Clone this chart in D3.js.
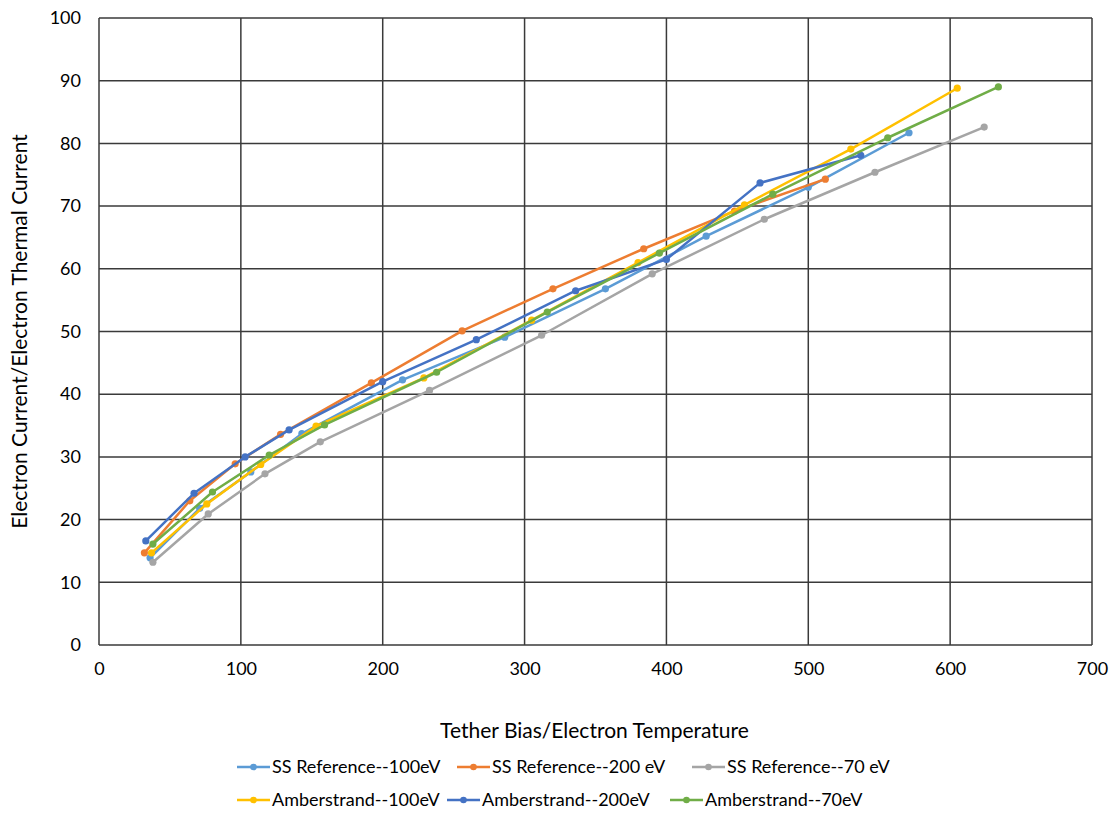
<!DOCTYPE html>
<html><head><meta charset="utf-8">
<script src="https://cdn.jsdelivr.net/npm/d3@7"></script>
<style>
body{margin:0;background:#fff;}
text{font-family:Lato,"Open Sans",sans-serif;fill:#000;}
</style></head>
<body><svg id="c" width="1120" height="819"></svg>
<script>
const xTicks=[0,100,200,300,400,500,600,700];
const yTicks=[0,10,20,30,40,50,60,70,80,90,100];
const seriesNames=["SS Reference--100eV","SS Reference--200 eV","SS Reference--70 eV","Amberstrand--100eV","Amberstrand--200eV","Amberstrand--70eV"];
const seriesColors=["#5B9BD5","#ED7D31","#A5A5A5","#FFC000","#4472C4","#70AD47"];
const ss100=[[36,13.9],[71,21.8],[107,27.6],[143,33.7],[214,42.3],[286,49.1],[357,56.8],[428,65.2],[500,73.0],[571,81.7]];
const ss200=[[32,14.7],[64,23.0],[96,28.9],[128,33.6],[192,41.8],[256,50.1],[320,56.8],[384,63.2],[448,69.2],[512,74.3]];
const ss70=[[38,13.2],[77,20.9],[117,27.3],[156,32.4],[233,40.6],[312,49.4],[390,59.2],[469,67.9],[547,75.4],[624,82.6]];
const amb100=[[37,14.7],[76,22.5],[114,28.8],[153,34.9],[229,42.6],[305,51.8],[380,61.0],[455,70.2],[530,79.1],[605,88.8]];
const amb200=[[33,16.6],[67,24.2],[103,30.0],[134,34.3],[200,42.0],[266,48.7],[336,56.5],[400,61.5],[466,73.7],[537,78.1]];
const amb70=[[38,16.1],[80,24.4],[120,30.3],[159,35.1],[238,43.5],[316,53.1],[395,62.5],[475,71.9],[556,80.9],[634,89.0]];
const seriesData=[ss100,ss200,ss70,amb100,amb200,amb70];

const svg=d3.select("#c");
const L=99,R=1092,T=18,B=645;
const x=d3.scaleLinear().domain([0,700]).range([L,R]);
const y=d3.scaleLinear().domain([0,100]).range([B,T]);

// grid
svg.append("g").selectAll("line").data(xTicks).join("line")
 .attr("x1",d=>x(d)).attr("x2",d=>x(d)).attr("y1",T).attr("y2",B)
 .attr("stroke","#3a3a3a").attr("stroke-width",1.5);
svg.append("g").selectAll("line").data(yTicks).join("line")
 .attr("y1",d=>y(d)).attr("y2",d=>y(d)).attr("x1",L).attr("x2",R)
 .attr("stroke","#3a3a3a").attr("stroke-width",1.5);

// axes labels
const xa=svg.append("g").attr("transform",`translate(0,${B})`).call(d3.axisBottom(x).tickValues(xTicks).tickSize(0).tickPadding(17));
xa.select(".domain").remove();
xa.selectAll("text").style("font-size","18px").attr("fill","#000");
const ya=svg.append("g").attr("transform",`translate(${L},0)`).call(d3.axisLeft(y).tickValues(yTicks).tickSize(0).tickPadding(18));
ya.select(".domain").remove();
ya.selectAll("text").style("font-size","18px").attr("fill","#000");

svg.append("text").attr("x",(L+R)/2 - 1).attr("y",738).attr("text-anchor","middle")
 .style("font-size","21px").text("Tether Bias/Electron Temperature");
svg.append("text").attr("transform",`translate(27,${(T+B)/2}) rotate(-90)`).attr("text-anchor","middle")
 .style("font-size","21px").text("Electron Current/Electron Thermal Current");

// series
const line=d3.line().x(d=>x(d[0])).y(d=>y(d[1]));
seriesData.forEach((s,i)=>{
  const g=svg.append("g");
  g.append("path").datum(s).attr("d",line).attr("fill","none")
   .attr("stroke",seriesColors[i]).attr("stroke-width",2.5).attr("stroke-linejoin","round");
  g.selectAll("circle").data(s).join("circle").attr("cx",d=>x(d[0])).attr("cy",d=>y(d[1]))
   .attr("r",3.6).attr("fill",seriesColors[i]);
});

// legend
const legPos=[[237,767],[457,767],[692,767],[237,800],[447,800],[670,800]];
seriesNames.forEach((n,i)=>{
  const [lx,ly]=legPos[i];
  const g=svg.append("g").attr("transform",`translate(${lx},${ly})`);
  g.append("line").attr("x1",0).attr("x2",33).attr("y1",0).attr("y2",0).attr("stroke",seriesColors[i]).attr("stroke-width",2.5);
  g.append("circle").attr("cx",16.5).attr("cy",0).attr("r",3.3).attr("fill",seriesColors[i]);
  g.append("text").attr("x",35).attr("y",6).style("font-size","18px").text(n);
});
</script></body></html>
